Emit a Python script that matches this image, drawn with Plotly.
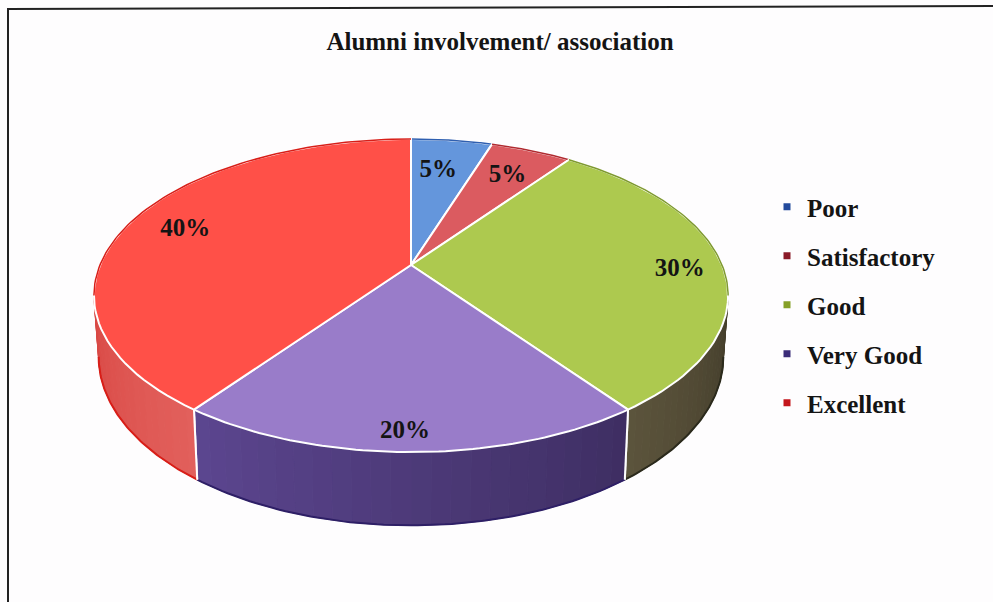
import math
import plotly.graph_objects as go

categories = ["Poor", "Satisfactory", "Good", "Very Good", "Excellent"]
values = [5, 5, 30, 20, 40]
title_text = "Alumni involvement/ association"

top_colors = ["#6496DC", "#DB5B60", "#ADC94F", "#997CC9", "#FF5048"]
side_start = [(63, 106, 168), (168, 64, 69), (66, 60, 42), (62, 46, 98), (226, 96, 92)]
side_end = [(63, 106, 168), (168, 64, 69), (92, 84, 60), (92, 70, 144), (217, 72, 68)]
rim_colors = ["#2F5FB0", "#B02A30", "#2B2A1C", "#2E1F66", "#D81E18"]
back_colors = ["#2F5FB0", "#B02A30", "#7F9A30", "#2E1F66", "#D81E18"]
legend_colors = ["#234A9C", "#8A1A28", "#86A028", "#3B2C78", "#C4161C"]
label_radii = [0.72, 0.76, 0.86, 0.91, 0.80]
label_turn_deg = [-1.0, 0.5, 2.0, 1.0, 0.0]

# projection of the disc (tilted with perspective), in page pixels
CX, CY, A, B, K, D, SHRINK = 411, 265, 311, 150.6, 0.195, 59, 0.985
FONT = "Liberation Serif"


def top(a, r=1.0):
    u, v = r * math.sin(a), r * math.cos(a)
    w = 1 + K * v
    return CX + A * u / w, CY - B * v / w


def bottom(a):
    x, y = top(a)
    w = 1 + K * math.cos(a)
    return CX + (x - CX) * SHRINK, y + D / w


def arc(a0, a1, fn, n=70):
    pts = [fn(a0 + (a1 - a0) * i / n) for i in range(n + 1)]
    return [p[0] for p in pts], [p[1] for p in pts]


total = sum(values)
edges = [0.0]
for val in values:
    edges.append(edges[-1] + val / total * 2 * math.pi)

vis0 = math.acos(-K)
vis1 = 2 * math.pi - vis0

fig = go.Figure()

# native legend entries
for name, col in zip(categories, legend_colors):
    fig.add_trace(go.Scatter(x=[None], y=[None], mode="markers", name=name, legendgroup=name,
                             marker=dict(symbol="square", size=7, color=col), hoverinfo="skip"))

# side walls, shaded in strips along the arc
STRIPS = 24
for i in range(len(values)):
    a0, a1 = max(edges[i], vis0), min(edges[i + 1], vis1)
    if a1 <= a0:
        continue
    for s in range(STRIPS):
        t = (s + 0.5) / STRIPS
        c = [round(p + (q - p) * t) for p, q in zip(side_start[i], side_end[i])]
        col = f"rgb({c[0]},{c[1]},{c[2]})"
        b0 = a0 + (a1 - a0) * s / STRIPS
        b1 = a0 + (a1 - a0) * (s + 1) / STRIPS
        xt, yt = arc(b0, b1, top, 6)
        xb, yb = arc(b0, b1, bottom, 6)
        fig.add_trace(go.Scatter(x=xt + xb[::-1] + xt[:1], y=yt + yb[::-1] + yt[:1], mode="lines",
                                 fill="toself", fillcolor=col, line=dict(color=col, width=1),
                                 showlegend=False, hoverinfo="skip"))
    xb, yb = arc(a0, a1, bottom)
    fig.add_trace(go.Scatter(x=xb, y=yb, mode="lines", line=dict(color=rim_colors[i], width=2),
                             showlegend=False, hoverinfo="skip"))
    # white seams on the wall where a slice boundary is visible
    for e in (edges[i], edges[i + 1]):
        if vis0 < e < vis1:
            xs, ys = zip(top(e), bottom(e))
            fig.add_trace(go.Scatter(x=list(xs), y=list(ys), mode="lines", line=dict(color="white", width=2),
                                     showlegend=False, hoverinfo="skip"))

# top faces
for i in range(len(values)):
    xa, ya = arc(edges[i], edges[i + 1], top)
    fig.add_trace(go.Scatter(x=[CX] + xa + [CX], y=[CY] + ya + [CY], mode="lines", fill="toself",
                             fillcolor=top_colors[i], line=dict(color="white", width=2),
                             showlegend=False, hoverinfo="skip"))
    # darker rim on the back of the disc
    r0, r1 = edges[i], edges[i + 1]
    if r0 < vis0:
        x, y = arc(r0, min(r1, vis0), top)
        fig.add_trace(go.Scatter(x=x, y=y, mode="lines", line=dict(color=back_colors[i], width=1.5),
                                 showlegend=False, hoverinfo="skip"))
    if r1 > vis1:
        x, y = arc(max(r0, vis1), r1, top)
        fig.add_trace(go.Scatter(x=x, y=y, mode="lines", line=dict(color=back_colors[i], width=1.5),
                                 showlegend=False, hoverinfo="skip"))

# percentage labels
lx, ly, lt = [], [], []
for i, val in enumerate(values):
    mid = (edges[i] + edges[i + 1]) / 2 + math.radians(label_turn_deg[i])
    x, y = top(mid, label_radii[i])
    lx.append(x); ly.append(y); lt.append(f"{val / total * 100:.0f}%")
fig.add_trace(go.Scatter(x=lx, y=ly, text=lt, mode="text", textposition="middle center",
                         textfont=dict(family=FONT, size=25, color="#141414", weight=700),
                         showlegend=False, hoverinfo="skip"))

fig.update_layout(
    width=993, height=602, margin=dict(l=0, r=0, t=0, b=0),
    paper_bgcolor="#FEFDFE", plot_bgcolor="rgba(0,0,0,0)",
    xaxis=dict(range=[0, 993], visible=False, fixedrange=True),
    yaxis=dict(range=[602, 0], visible=False, fixedrange=True),
    title=dict(text=title_text, x=500 / 993, y=1 - 41 / 602, xanchor="center", yanchor="middle",
               font=dict(family=FONT, size=25, color="#141414", weight=700)),
    legend=dict(x=767 / 993, y=1 - 184 / 602, xanchor="left", yanchor="top", tracegroupgap=13.5,
                bgcolor="rgba(0,0,0,0)", itemwidth=30,
                font=dict(family=FONT, size=25, color="#141414", weight=700)),
    shapes=[
        dict(type="line", xref="x", yref="y", x0=8, x1=8, y0=9, y1=602, line=dict(color="#222222", width=2)),
        dict(type="line", xref="x", yref="y", x0=7, x1=993, y0=9, y1=6, line=dict(color="#222222", width=2)),
    ],
)
fig.write_html("out.html", config={"displayModeBar": False},
               post_script="document.body.style.margin='0';document.body.style.overflow='hidden';")
